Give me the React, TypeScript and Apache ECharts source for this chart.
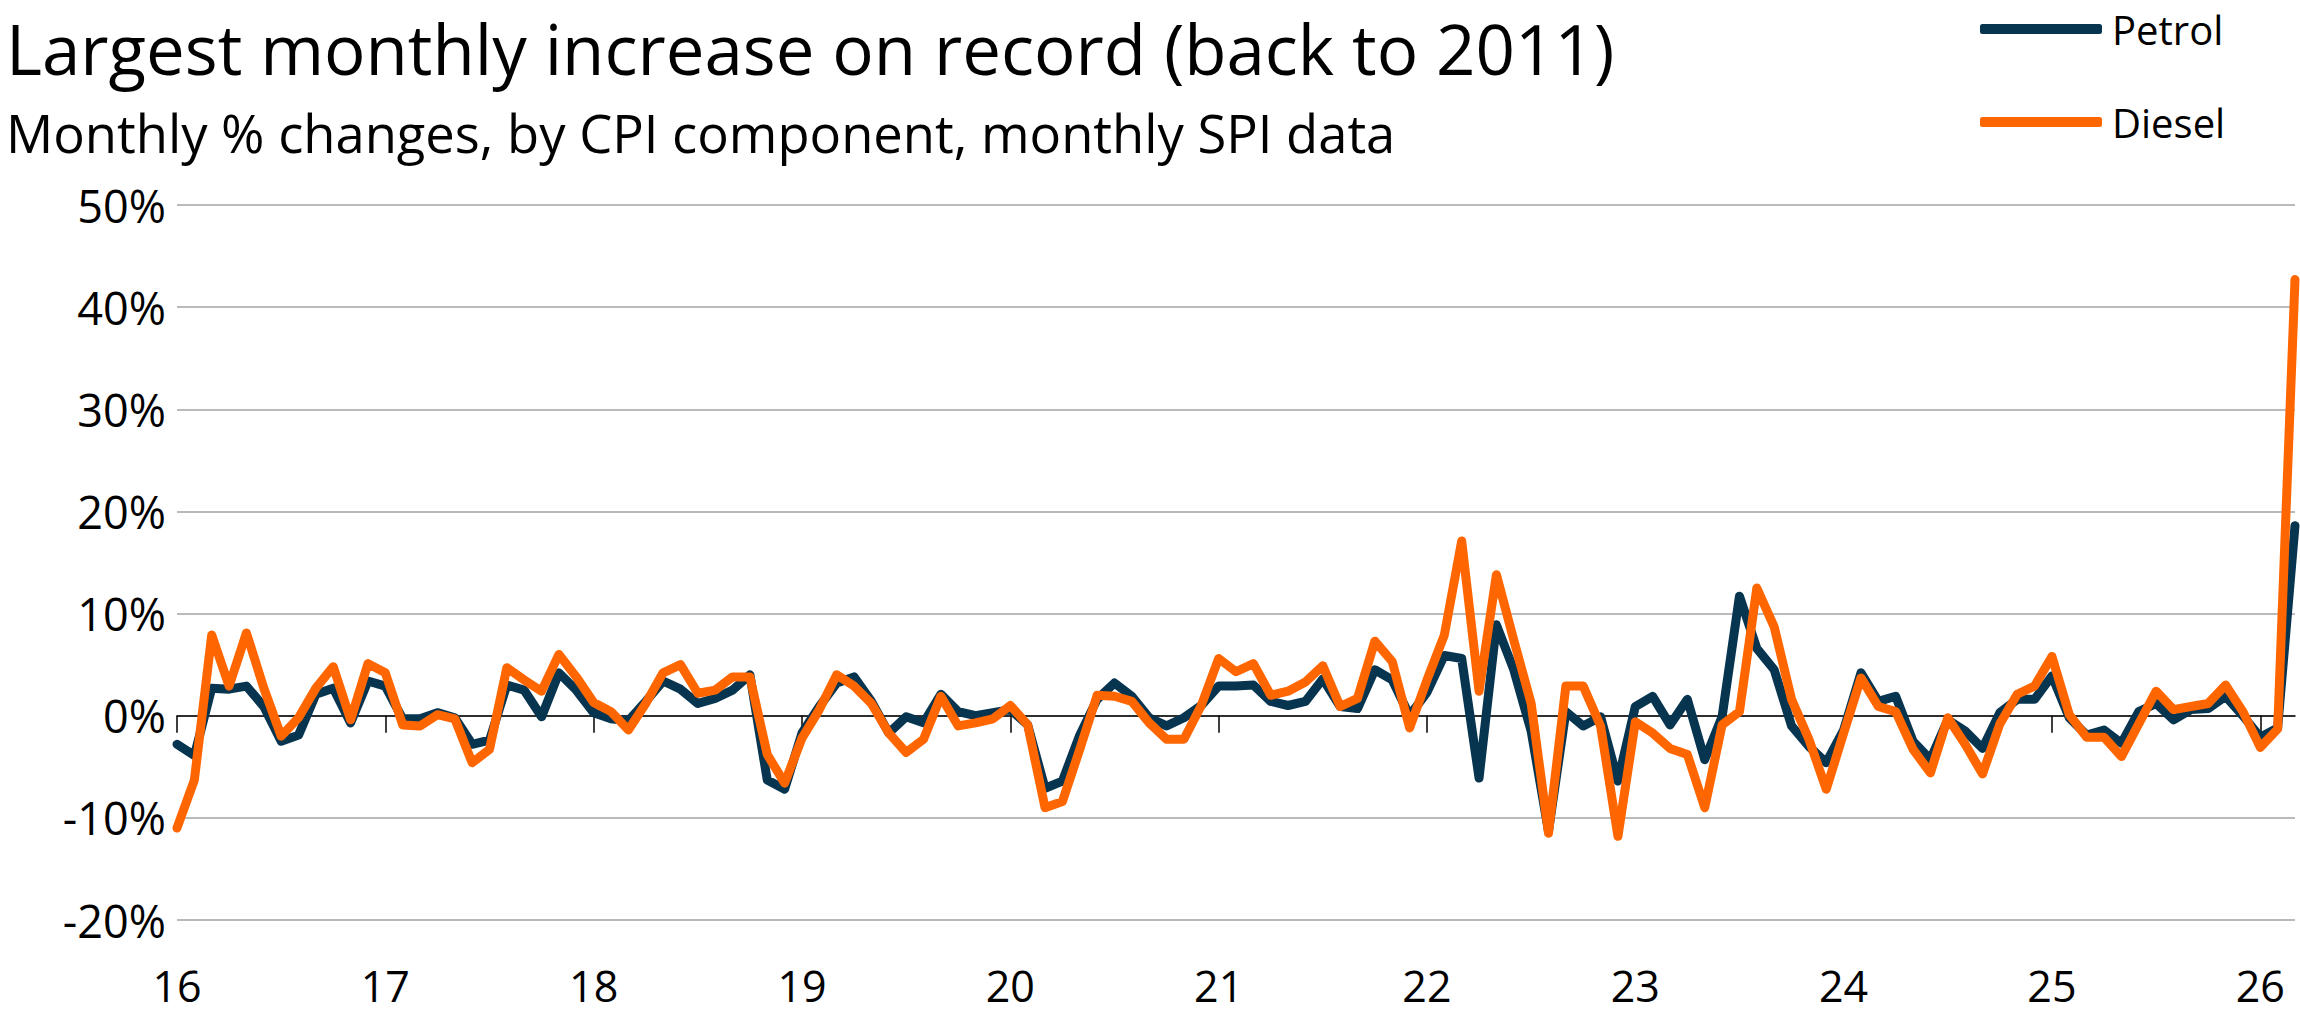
import React, { useEffect, useRef } from "react";
import * as echarts from "echarts";

// Monthly % changes, Jan 2016 – Mar 2026
const petrol: number[] = [
  -2.8, -3.9, 2.7, 2.6, 2.9, 0.9, -2.5, -1.9, 2.1, 2.7, -0.7, 3.4,
  2.9, -0.3, -0.3, 0.3, -0.2, -2.8, -2.4, 3.0, 2.5, -0.1, 4.2, 2.5,
  0.3, -0.3, -0.5, 1.4, 3.4, 2.6, 1.2, 1.7, 2.5, 4.0, -6.3, -7.2,
  -1.7, 0.9, 3.2, 3.8, 1.4, -1.7, -0.1, -0.7, 2.1, 0.4, 0.0, 0.3,
  0.6, -0.9, -7.1, -6.4, -1.9, 1.6, 3.2, 1.9, -0.2, -1.0, -0.2, 1.0,
  2.9, 2.9, 3.0, 1.4, 1.0, 1.4, 3.6, 0.9, 0.7, 4.5, 3.5, 0.0,
  2.3, 5.9, 5.6, -6.1, 8.9, 4.5, -1.5, -11.3, 0.4, -1.0, -0.1, -6.4,
  0.9, 1.9, -0.9, 1.6, -4.3, -0.1, 11.7, 6.6, 4.5, -1.0, -3.0, -4.6,
  -1.4, 4.2, 1.4, 1.9, -2.5, -4.3, -0.4, -1.5, -3.2, 0.3, 1.6, 1.6,
  3.9, -0.2, -1.9, -1.4, -2.7, 0.4, 1.2, -0.4, 0.6, 0.7, 1.9, 0.0,
  -2.1, -1.2, 18.6,
];

const diesel: number[] = [
  -11.0, -6.3, 7.9, 2.9, 8.1, 2.7, -2.0, -0.2, 2.7, 4.8, -0.4, 5.1,
  4.2, -0.9, -1.0, 0.1, -0.3, -4.6, -3.3, 4.7, 3.5, 2.4, 6.0, 3.8,
  1.3, 0.4, -1.4, 1.2, 4.2, 5.0, 2.2, 2.5, 3.8, 3.8, -3.8, -6.6,
  -2.2, 0.6, 4.0, 2.9, 1.2, -1.7, -3.6, -2.3, 1.9, -1.0, -0.7, -0.3,
  1.0, -0.9, -9.0, -8.4, -3.3, 2.0, 1.9, 1.4, -0.7, -2.3, -2.3, 1.0,
  5.6, 4.3, 5.1, 2.0, 2.4, 3.3, 4.9, 0.9, 1.7, 7.3, 5.3, -1.2,
  3.5, 7.9, 17.1, 2.4, 13.8, 7.4, 1.2, -11.5, 2.9, 2.9, -1.0, -11.8,
  -0.6, -1.7, -3.2, -3.8, -9.0, -0.9, 0.4, 12.5, 8.7, 1.6, -2.3, -7.2,
  -1.7, 3.7, 0.9, 0.4, -3.3, -5.6, -0.2, -2.8, -5.7, -0.8, 2.1, 2.9,
  5.8, 0.1, -2.1, -2.1, -4.0, -0.8, 2.4, 0.6, 0.9, 1.2, 3.0, 0.4,
  -3.1, -1.3, 42.7,
];

const yearLabels: string[] = ["16", "17", "18", "19", "20", "21", "22", "23", "24", "25", "26"];
const monthCodes: string[] = ["01", "02", "03", "04", "05", "06", "07", "08", "09", "10", "11", "12"];
const yTicks: number[] = [-20, -10, 0, 10, 20, 30, 40, 50];

const categories: string[] = yearLabels
  .flatMap((y) => monthCodes.map((m) => `${y}-${m}`))
  .slice(0, petrol.length);

const TITLE = "Largest monthly increase on record (back to 2011)";
const SUBTITLE = "Monthly % changes, by CPI component, monthly SPI data";

const FONT = "'Open Sans', 'Noto Sans', sans-serif";
const PETROL_COLOR = "#07344F";
const DIESEL_COLOR = "#FF6600";

export default function App() {
  const ref = useRef<HTMLDivElement>(null);

  useEffect(() => {
    if (!ref.current) return;
    const chart = echarts.init(ref.current, undefined, { renderer: "svg" });
    const isJan = (i: number) => i % 12 === 0;
    chart.setOption({
      animation: false,
      backgroundColor: "#ffffff",
      title: [
        {
          text: TITLE,
          left: 6,
          top: 13,
          padding: 0,
          textStyle: { fontFamily: FONT, fontSize: 69, fontWeight: "normal", color: "#000" },
        },
        {
          text: SUBTITLE,
          left: 6,
          top: 106,
          padding: 0,
          textStyle: { fontFamily: FONT, fontSize: 52.5, fontWeight: "normal", color: "#000" },
        },
      ],
      legend: {
        data: ["Petrol", "Diesel"],
        orient: "vertical",
        left: 1980,
        top: 9,
        padding: 0,
        itemWidth: 122,
        itemHeight: 10,
        itemGap: 53,
        icon: "roundRect",
        selectedMode: false,
        textStyle: { fontFamily: FONT, fontSize: 40, color: "#000", padding: [0, 0, 0, 5] },
      },
      grid: { left: 177, right: 5, top: 205, bottom: 96, containLabel: false },
      xAxis: [
        {
          type: "category",
          data: categories,
          boundaryGap: false,
          position: "bottom",
          axisLine: { show: false, onZero: false },
          axisTick: { show: false },
          splitLine: { show: false },
          axisLabel: {
            interval: (i: number) => isJan(i),
            formatter: (v: string) => (v.endsWith("-01") ? v.slice(0, 2) : ""),
            fontFamily: FONT,
            fontSize: 43,
            lineHeight: 34,
            color: "#000",
            margin: 48,
          },
        },
        {
          type: "category",
          data: categories,
          boundaryGap: false,
          position: "top",
          axisLine: { show: true, onZero: true, onZeroAxisIndex: 0, lineStyle: { color: "#000", width: 1.5 } },
          axisTick: {
            show: true,
            inside: true,
            length: 17,
            interval: (i: number) => isJan(i),
            lineStyle: { color: "#000", width: 1.5 },
          },
          axisLabel: { show: false },
          splitLine: { show: false },
        },
      ],
      yAxis: {
        type: "value",
        min: yTicks[0],
        max: yTicks[yTicks.length - 1],
        interval: 10,
        axisLine: { show: false },
        axisTick: { show: false },
        splitLine: { show: true, lineStyle: { color: "#A3A3A3", width: 1.5 } },
        axisLabel: {
          formatter: "{value}%",
          fontFamily: FONT,
          fontSize: 45,
          color: "#000",
          margin: 11,
        },
      },
      series: [
        {
          name: "Petrol",
          type: "line",
          xAxisIndex: 0,
          data: petrol,
          symbol: "none",
          showSymbol: false,
          color: PETROL_COLOR,
          itemStyle: { color: PETROL_COLOR },
          lineStyle: { color: PETROL_COLOR, width: 9, cap: "round", join: "round" },
          z: 3,
        },
        {
          name: "Diesel",
          type: "line",
          xAxisIndex: 0,
          data: diesel,
          symbol: "none",
          showSymbol: false,
          color: DIESEL_COLOR,
          itemStyle: { color: DIESEL_COLOR },
          lineStyle: { color: DIESEL_COLOR, width: 9, cap: "round", join: "round" },
          z: 4,
        },
      ],
    });
    return () => chart.dispose();
  }, []);

  return (
    <div
      ref={ref}
      style={{ position: "absolute", left: 0, top: 0, width: 2300, height: 1016 }}
    />
  );
}
